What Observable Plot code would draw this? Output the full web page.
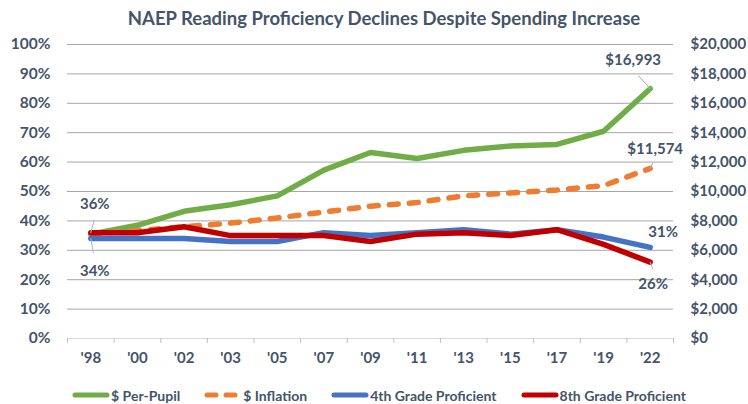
<!DOCTYPE html>
<html>
<head>
<meta charset="utf-8">
<script src="https://cdn.jsdelivr.net/npm/d3@7"></script>
<script src="https://cdn.jsdelivr.net/npm/@observablehq/plot@0.6"></script>
<style>
  html, body { margin: 0; padding: 0; background: #fff; }
  body { width: 748px; height: 404px; overflow: hidden; position: relative; font-family: Lato, "Open Sans", sans-serif; }
  #title { height: 30px; line-height: 30px; padding-top: 3px; text-align: center; font-weight: bold; font-size: 18.5px; color: #44546a; padding-left: 20px; white-space: nowrap; }
  #chart svg { display: block; }
  #legend { position: absolute; left: 0; right: 0; top: 383px; height: 24px; display: flex; justify-content: center; align-items: center; gap: 24px; padding-left: 10px; font-weight: bold; font-size: 14px; color: #44546a; }
  #legend .item { display: flex; align-items: center; white-space: nowrap; }
  #legend svg { display: block; margin-right: 1px; }
</style>
</head>
<body>
<div id="title">NAEP Reading Proficiency Declines Despite Spending Increase</div>
<div id="chart"></div>
<div id="legend"></div>
<script>
// ---- data ----
const years = ["'98", "'00", "'02", "'03", "'05", "'07", "'09", "'11", "'13", "'15", "'17", "'19", "'22"];
const perPupil = [7100, 7700, 8650, 9100, 9700, 11450, 12650, 12250, 12800, 13100, 13200, 14100, 16993];
const inflation = [7100, 7350, 7600, 7850, 8200, 8600, 9000, 9250, 9700, 9900, 10100, 10400, 11574];
const grade4 = [34, 34, 34, 33, 33, 36, 35, 36, 37, 35.5, 37, 34.5, 31];
const grade8 = [36, 36, 38, 35, 35, 35, 33, 35.5, 36, 35, 37, 32, 26];
const seriesNames = ["$ Per-Pupil", "$ Inflation", "4th Grade Proficient", "8th Grade Proficient"];
const seriesColors = ["#70ad47", "#ed7d31", "#4472c4", "#c00000"];
const pctTicks = [0, 10, 20, 30, 40, 50, 60, 70, 80, 90, 100];
const dollarsPerPct = 200; // right axis: $20,000 at the 100% line

// ---- derived table ----
const rows = years.map((year, i) => ({
  i, year,
  perPupil: perPupil[i] / dollarsPerPct,
  inflation: inflation[i] / dollarsPerPct,
  g4: grade4[i],
  g8: grade8[i]
}));
const idx = years.map((_, i) => i);
const boundaries = years.map((_, i) => i - 0.5).concat([years.length - 0.5]);
const last = years.length - 1;
const fmtDollar = d3.format("$,");

const labels = [
  {i: 0, y: grade8[0], text: grade8[0] + "%", dx: 4, dy: -28},
  {i: 0, y: grade4[0], text: grade4[0] + "%", dx: 4, dy: 33},
  {i: last, y: perPupil[last] / dollarsPerPct, text: fmtDollar(perPupil[last]), dx: -17, dy: -29},
  {i: last, y: inflation[last] / dollarsPerPct, text: fmtDollar(inflation[last]), dx: 5, dy: -19},
  {i: last, y: grade4[last], text: grade4[last] + "%", dx: 13, dy: -15},
  {i: last, y: grade8[last], text: grade8[last] + "%", dx: 3, dy: 22}
];
const leaders = [
  {i: 0, y: grade8[0], len: 14, rot: 15},
  {i: 0, y: grade4[0], len: 17, rot: 170},
  {i: last, y: perPupil[last] / dollarsPerPct, len: 20, rot: -42},
  {i: last, y: inflation[last] / dollarsPerPct, len: 7, rot: 25},
  {i: last, y: grade8[last], len: 8, rot: 160}
];

const lineOpts = (key, k, extra = {}) => Plot.line(rows, Object.assign({
  x: "i", y: key, stroke: seriesColors[k], strokeWidth: 5.5,
  strokeLinecap: "round", strokeLinejoin: "round"
}, extra));

const labelMarks = labels.map(d => Plot.text([d], {
  x: "i", y: "y", text: "text", dx: d.dx, dy: d.dy,
  fontSize: 15, fontWeight: "bold", fill: "#44546a"
}));

const chart = Plot.plot({
  width: 748,
  height: 343,
  marginTop: 11,
  marginBottom: 38,
  marginLeft: 67,
  marginRight: 75,
  style: {fontFamily: "Lato, 'Open Sans', sans-serif", fontSize: "15px", fontWeight: "bold", color: "#44546a", background: "#fff"},
  x: {type: "linear", domain: [-0.5, years.length - 0.5]},
  y: {domain: [0, 100]},
  marks: [
    Plot.gridY({ticks: pctTicks.slice(1), stroke: "#a6a6a6", strokeOpacity: 1}),
    Plot.ruleY([0], {stroke: "#d9d9d9", strokeWidth: 1}),
    Plot.axisX({ticks: boundaries, tickFormat: () => "", tickSize: 5, stroke: "#bfbfbf", label: null}),
    Plot.axisX({ticks: idx, tickFormat: i => years[i], tickSize: 0, tickPadding: 14, label: null, fontSize: 15}),
    Plot.axisY({anchor: "left", ticks: pctTicks, tickFormat: d => d + "%", tickSize: 0, tickPadding: 17, label: null, fontSize: 15.5}),
    Plot.axisY({anchor: "right", ticks: pctTicks, tickFormat: d => fmtDollar(d * dollarsPerPct), tickSize: 0, tickPadding: 17, label: null, fontSize: 15}),
    lineOpts("perPupil", 0),
    lineOpts("inflation", 1, {strokeDasharray: "9,11"}),
    lineOpts("g4", 2),
    lineOpts("g8", 3),
    Plot.vector(leaders, {x: "i", y: "y", length: d => d.len, rotate: "rot", anchor: "start", shape: "spike", r: 0, stroke: "#a9b6c8", strokeWidth: 1}),
    ...labelMarks
  ]
});
document.getElementById("chart").appendChild(chart);

// ---- legend ----
const legend = d3.select("#legend");
seriesNames.forEach((name, k) => {
  const item = legend.append("div").attr("class", "item");
  const sw = item.append("svg").attr("width", 38).attr("height", 8);
  const ln = sw.append("line").attr("x1", 3).attr("x2", 35).attr("y1", 4).attr("y2", 4)
    .attr("stroke", seriesColors[k]).attr("stroke-width", 5).attr("stroke-linecap", "round");
  if (k === 1) ln.attr("stroke-dasharray", "9,10");
  item.append("span").text(name);
});
</script>
</body>
</html>
